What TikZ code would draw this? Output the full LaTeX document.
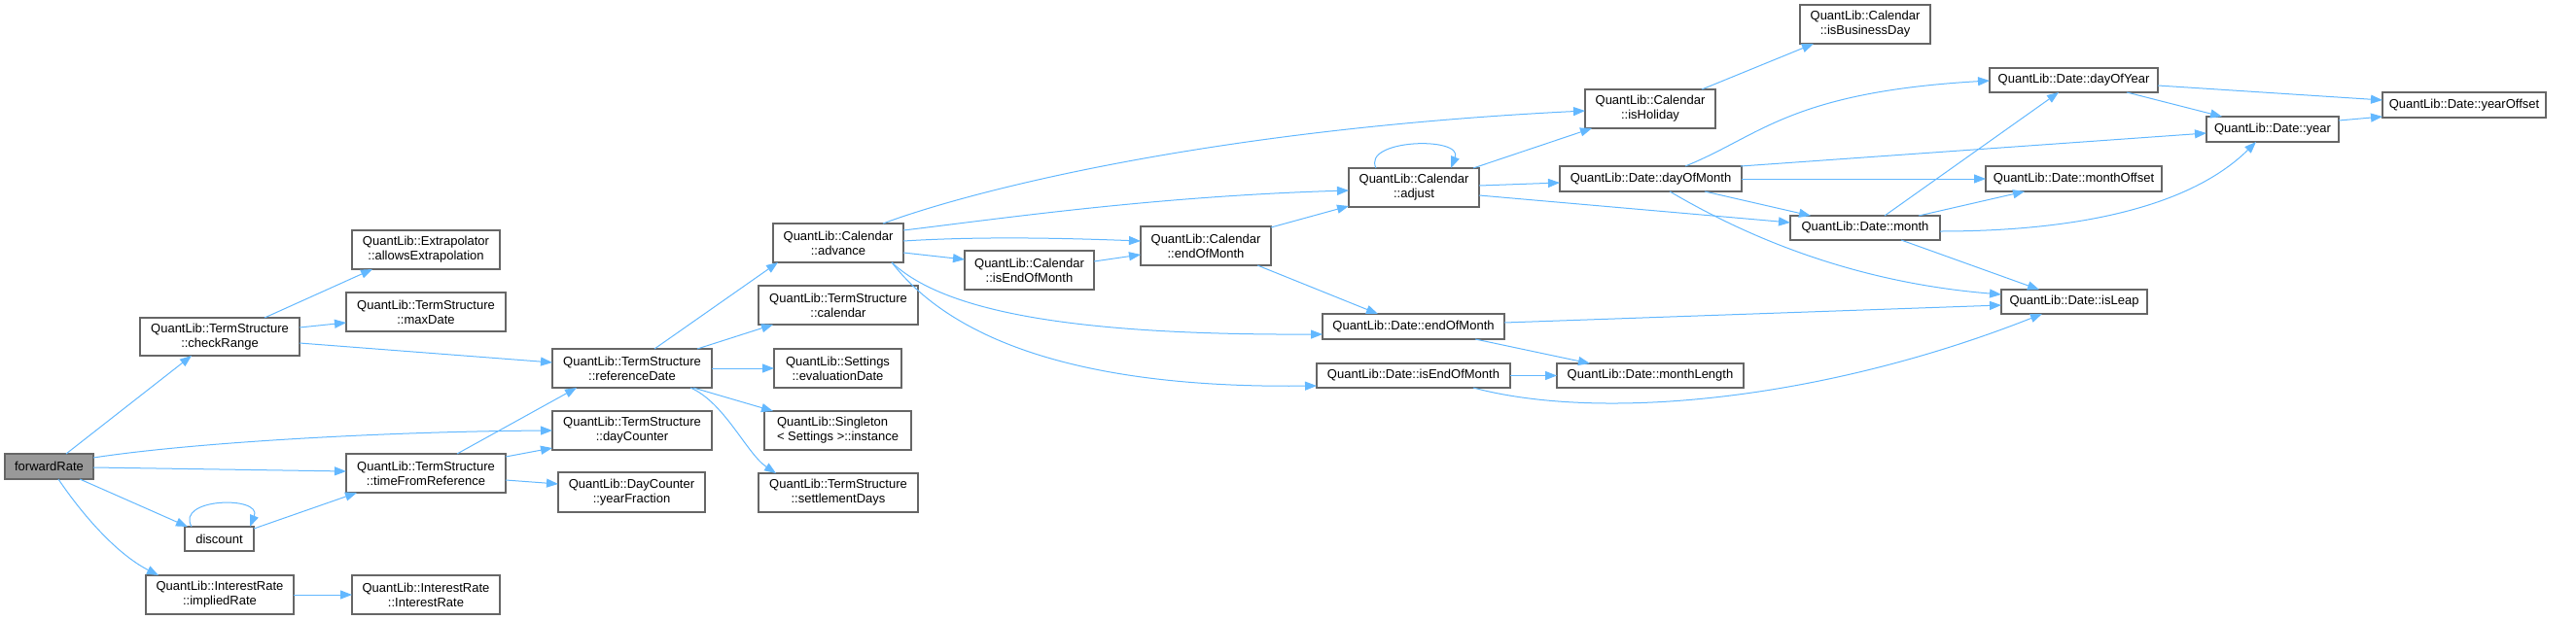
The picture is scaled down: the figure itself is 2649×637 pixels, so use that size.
\documentclass[tikz,border=0pt]{standalone}
\usepackage{fontspec}
\setmainfont{Liberation Sans}
\usetikzlibrary{arrows.meta}
\definecolor{edgeblue}{HTML}{63B8FF}
\definecolor{boxgray}{HTML}{666666}
\definecolor{mainfill}{HTML}{999999}
\begin{document}
\begin{tikzpicture}[x=1pt,y=-1pt,
  box/.style={draw=boxgray, line width=1.2pt, fill=white, inner sep=0pt, outer sep=0pt,
    anchor=north west, align=center, font=\fontsize{13}{15}\selectfont},
  wh/.style 2 args={minimum width=#1pt, minimum height=#2pt},
  call/.style={draw=edgeblue, line width=1pt, -{Triangle[length=12pt,width=9pt]}}
]
\useasboundingbox (0,0) rectangle (2649,637);

% nodes
\node[box, wh={91}{26}, fill=mainfill] (fr) at (5,467) {forwardRate};
\node[box, wh={164}{39}] (cr) at (144,327) {QuantLib::TermStructure\\::checkRange};
\node[box, wh={71}{25}] (disc) at (190,542) {discount};
\node[box, wh={152}{40}] (ir) at (150,592) {QuantLib::InterestRate\\::impliedRate};
\node[box, wh={152}{40}] (ae) at (362,237) {QuantLib::Extrapolator\\::allowsExtrapolation};
\node[box, wh={164}{40}] (md) at (356,301) {QuantLib::TermStructure\\::maxDate};
\node[box, wh={164}{40}] (rd) at (568,359) {QuantLib::TermStructure\\::referenceDate};
\node[box, wh={164}{40}] (dc) at (568,423) {QuantLib::TermStructure\\::dayCounter};
\node[box, wh={164}{40}] (tfr) at (356,467) {QuantLib::TermStructure\\::timeFromReference};
\node[box, wh={151}{41}] (yf) at (574,486) {QuantLib::DayCounter\\::yearFraction};
\node[box, wh={152}{40}] (irc) at (362,592) {QuantLib::InterestRate\\::InterestRate};
\node[box, wh={134}{40}] (adv) at (795,230) {QuantLib::Calendar\\::advance};
\node[box, wh={164}{40}] (cal) at (780,294) {QuantLib::TermStructure\\::calendar};
\node[box, wh={131}{40}] (ed) at (796,359) {QuantLib::Settings\\::evaluationDate};
\node[box, wh={151}{40}, align=left] (inst) at (786,423) {QuantLib::Singleton\\< Settings >::instance};
\node[box, wh={164}{40}] (sd) at (780,487) {QuantLib::TermStructure\\::settlementDays};
\node[box, wh={133}{40}] (cieom) at (992,258) {QuantLib::Calendar\\::isEndOfMonth};
\node[box, wh={134}{40}] (ceom) at (1173,233) {QuantLib::Calendar\\::endOfMonth};
\node[box, wh={134}{40}] (adj) at (1387,173) {QuantLib::Calendar\\::adjust};
\node[box, wh={134}{40}] (hol) at (1630,92) {QuantLib::Calendar\\::isHoliday};
\node[box, wh={134}{40}] (bd) at (1851,5) {QuantLib::Calendar\\::isBusinessDay};
\node[box, wh={187}{26}] (dom) at (1604,171) {QuantLib::Date::dayOfMonth};
\node[box, wh={187}{26}] (deom) at (1360,323) {QuantLib::Date::endOfMonth};
\node[box, wh={199}{25}] (dieom) at (1354,374) {QuantLib::Date::isEndOfMonth};
\node[box, wh={192}{25}] (ml) at (1601,374) {QuantLib::Date::monthLength};
\node[box, wh={173}{25}] (doy) at (2046,70) {QuantLib::Date::dayOfYear};
\node[box, wh={181}{26}] (mo) at (2042,171) {QuantLib::Date::monthOffset};
\node[box, wh={154}{25}] (mon) at (1841,222) {QuantLib::Date::month};
\node[box, wh={150}{25}] (leap) at (2058,298) {QuantLib::Date::isLeap};
\node[box, wh={136}{26}] (yr) at (2269,120) {QuantLib::Date::year};
\node[box, wh={168}{26}] (yo) at (2450,95) {QuantLib::Date::yearOffset};

% connectors
\draw[call] ([xshift=63pt]fr.north west) -- ([xshift=53pt,yshift=-39pt]cr.north west);
\draw[call] ([xshift=91pt,yshift=-4pt]fr.north west) .. controls +(104,-16) and +(-168,1) .. ([yshift=-20pt]dc.north west);
\draw[call] ([xshift=91pt,yshift=-14pt]fr.north west) -- ([yshift=-18pt]tfr.north west);
\draw[call] ([xshift=77pt,yshift=-26pt]fr.north west) -- ([xshift=3pt]disc.north west);
\draw[call] ([xshift=55pt,yshift=-26pt]fr.north west) .. controls +(25,37) and +(-43,-22) .. ([xshift=13pt]ir.north west);
\draw[call] ([xshift=128pt]cr.north west) -- ([xshift=21pt,yshift=-40pt]ae.north west);
\draw[call] ([xshift=164pt,yshift=-10pt]cr.north west) -- ([yshift=-31pt]md.north west);
\draw[call] ([xshift=164pt,yshift=-26pt]cr.north west) -- ([yshift=-14pt]rd.north west);
\draw[call] ([xshift=114pt]tfr.north west) -- ([xshift=25pt,yshift=-40pt]rd.north west);
\draw[call] ([xshift=164pt,yshift=-3pt]tfr.north west) -- ([yshift=-38pt]dc.north west);
\draw[call] ([xshift=164pt,yshift=-27pt]tfr.north west) -- ([yshift=-12pt]yf.north west);
\draw[call] ([xshift=7pt]disc.north west) .. controls +(-17,-30) and +(13,-32) .. ([xshift=67pt]disc.north west);
\draw[call] ([xshift=71pt,yshift=-2pt]disc.north west) -- ([xshift=11pt,yshift=-40pt]tfr.north west);
\draw[call] (ir.east) -- (irc.west);
\draw[call] ([xshift=105pt]rd.north west) -- ([xshift=5pt,yshift=-40pt]adv.north west);
\draw[call] ([xshift=149pt]rd.north west) -- ([xshift=15pt,yshift=-40pt]cal.north west);
\draw[call] (rd.east) -- (ed.west);
\draw[call] ([xshift=145pt,yshift=-40pt]rd.north west) -- ([xshift=9pt]inst.north west);
\draw[call] ([xshift=142pt,yshift=-40pt]rd.north west) .. controls +(35,15) and +(-30,-20) .. ([xshift=18pt]sd.north west);
\draw[call] ([xshift=113pt]adv.north west) .. controls +(80,-30) and +(-400,20) .. ([yshift=-22pt]hol.north west);
\draw[call] ([xshift=134pt,yshift=-7pt]adv.north west) .. controls +(100,-12) and +(-200,6) .. ([yshift=-23pt]adj.north west);
\draw[call] ([xshift=134pt,yshift=-18pt]adv.north west) .. controls +(80,-5) and +(-80,-3) .. ([yshift=-15pt]ceom.north west);
\draw[call] ([xshift=134pt,yshift=-30pt]adv.north west) -- ([yshift=-9pt]cieom.north west);
\draw[call] ([xshift=122pt,yshift=-40pt]adv.north west) .. controls +(53,50) and +(-260,1) .. ([yshift=-21pt]deom.north west);
\draw[call] ([xshift=122pt,yshift=-40pt]adv.north west) .. controls +(58,75) and +(-254,3) .. ([yshift=-23pt]dieom.north west);
\draw[call] ([xshift=133pt,yshift=-11pt]cieom.north west) -- ([yshift=-29pt]ceom.north west);
\draw[call] ([xshift=134pt,yshift=-1pt]ceom.north west) -- ([yshift=-39pt]adj.north west);
\draw[call] ([xshift=120pt,yshift=-40pt]ceom.north west) -- ([xshift=57pt]deom.north west);
\draw[call] ([xshift=28pt]adj.north west) .. controls +(-15,-30) and +(13,-33) .. ([xshift=105pt]adj.north west);
\draw[call] ([xshift=128pt]adj.north west) -- ([xshift=7pt,yshift=-40pt]hol.north west);
\draw[call] ([xshift=134pt,yshift=-18pt]adj.north west) -- ([yshift=-17pt]dom.north west);
\draw[call] ([xshift=134pt,yshift=-28pt]adj.north west) -- ([yshift=-7pt]mon.north west);
\draw[call] ([xshift=120pt]hol.north west) -- ([xshift=14pt,yshift=-40pt]bd.north west);
\draw[call] ([xshift=129pt]dom.north west) .. controls +(77,-31) and +(-206,12) .. ([yshift=-13pt]doy.north west);
\draw[call] ([xshift=186pt]dom.north west) -- ([yshift=-17pt]yr.north west);
\draw[call] (dom.east) -- (mo.west);
\draw[call] ([xshift=149pt,yshift=-26pt]dom.north west) -- ([xshift=21pt]mon.north west);
\draw[call] ([xshift=113pt,yshift=-26pt]dom.north west) .. controls +(73,43) and +(-158,-13) .. ([yshift=-5pt]leap.north west);
\draw[call] ([xshift=97pt]mon.north west) -- ([xshift=71pt,yshift=-25pt]doy.north west);
\draw[call] ([xshift=132pt]mon.north west) -- ([xshift=40pt,yshift=-26pt]mo.north west);
\draw[call] ([xshift=154pt,yshift=-16pt]mon.north west) .. controls +(135,0) and +(-70,69) .. ([xshift=51pt,yshift=-26pt]yr.north west);
\draw[call] ([xshift=114pt,yshift=-25pt]mon.north west) -- ([xshift=39pt]leap.north west);
\draw[call] ([xshift=173pt,yshift=-18pt]doy.north west) -- ([yshift=-8pt]yo.north west);
\draw[call] ([xshift=141pt,yshift=-25pt]doy.north west) -- ([xshift=16pt]yr.north west);
\draw[call] ([xshift=136pt,yshift=-4pt]yr.north west) -- ([yshift=-25pt]yo.north west);
\draw[call] ([xshift=187pt,yshift=-9pt]deom.north west) -- ([yshift=-16pt]leap.north west);
\draw[call] ([xshift=157pt,yshift=-26pt]deom.north west) -- ([xshift=34pt]ml.north west);
\draw[call] (dieom.east) -- (ml.west);
\draw[call] ([xshift=161pt,yshift=-25pt]dieom.north west) .. controls +(135,36) and +(-220,87) .. ([xshift=42pt,yshift=-25pt]leap.north west);
\end{tikzpicture}
\end{document}
